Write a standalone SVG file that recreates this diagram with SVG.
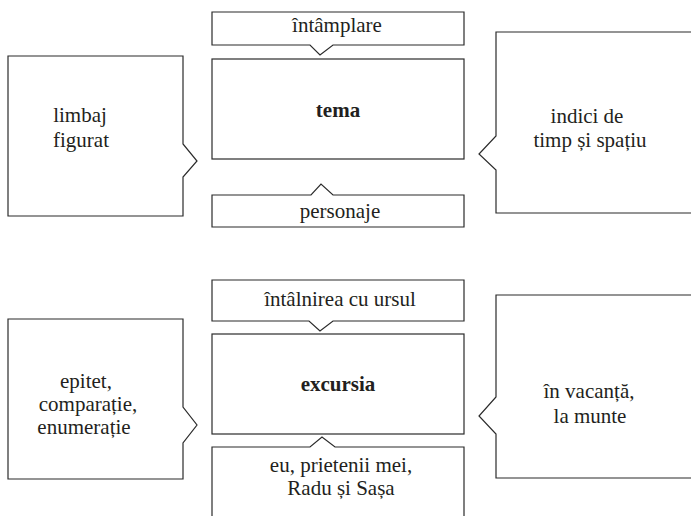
<svg xmlns="http://www.w3.org/2000/svg" width="691" height="516" viewBox="0 0 691 516">
<style>
.box{fill:#fff;stroke:#2b2b2b;stroke-width:1.2;stroke-linejoin:miter}
.t{font-size:21px;fill:#231f20;text-anchor:middle}
.b{font-weight:bold}
</style>
<rect width="691" height="516" fill="#fff"/>
<g font-family="Liberation Serif, Times New Roman, Noto Serif, DejaVu Serif, serif">
<g id="top-intamplare">
<path class="box" d="M212,12 H464 V45 H333 L320,55 L310,45 H212 Z"/>
<text class="t" x="337" y="32">întâmplare</text>
</g>
<g id="top-tema">
<rect class="box" x="212" y="59" width="252" height="100"/>
<text class="t b" x="338" y="117">tema</text>
</g>
<g id="top-personaje">
<path class="box" d="M212,227 V195 H311 L321,184 L333,195 H464 V227 Z"/>
<text class="t" x="340" y="218">personaje</text>
</g>
<g id="top-limbaj">
<path class="box" d="M8,56 H183 V144 L197,161 L183,177 V216 H8 Z"/>
<text class="t" x="80" y="122">limbaj</text>
<text class="t" x="81" y="147">figurat</text>
</g>
<g id="top-indici">
<path class="box" d="M691,32 H496 V136 L479,154 L496,170 V213 H691"/>
<text class="t" x="587" y="123">indici de</text>
<text class="t" x="590" y="147">timp și spațiu</text>
</g>
<g id="bot-intalnirea">
<path class="box" d="M212,280 H464 V321 H333 L320,331 L309,321 H212 Z"/>
<text class="t" x="340" y="306">întâlnirea cu ursul</text>
</g>
<g id="bot-excursia">
<rect class="box" x="212" y="334" width="252" height="100"/>
<text class="t b" x="338" y="391">excursia</text>
</g>
<g id="bot-eu">
<path class="box" d="M212,517 V447 H310 L322,437 L335,447 H464 V517"/>
<text class="t" x="341" y="472">eu, prietenii mei,</text>
<text class="t" x="341" y="495">Radu și Sașa</text>
</g>
<g id="bot-epitet">
<path class="box" d="M8,319 H183 V407 L197,425 L183,443 V479 H8 Z"/>
<text class="t" x="86" y="388">epitet,</text>
<text class="t" x="88" y="411">comparație,</text>
<text class="t" x="84" y="434">enumerație</text>
</g>
<g id="bot-vacanta">
<path class="box" d="M691,295 H496 V397 L479,416 L496,434 V478 H691"/>
<text class="t" x="589" y="398">în vacanță,</text>
<text class="t" x="590" y="423">la munte</text>
</g>
</g>
<g id="connectors"></g>
</svg>
